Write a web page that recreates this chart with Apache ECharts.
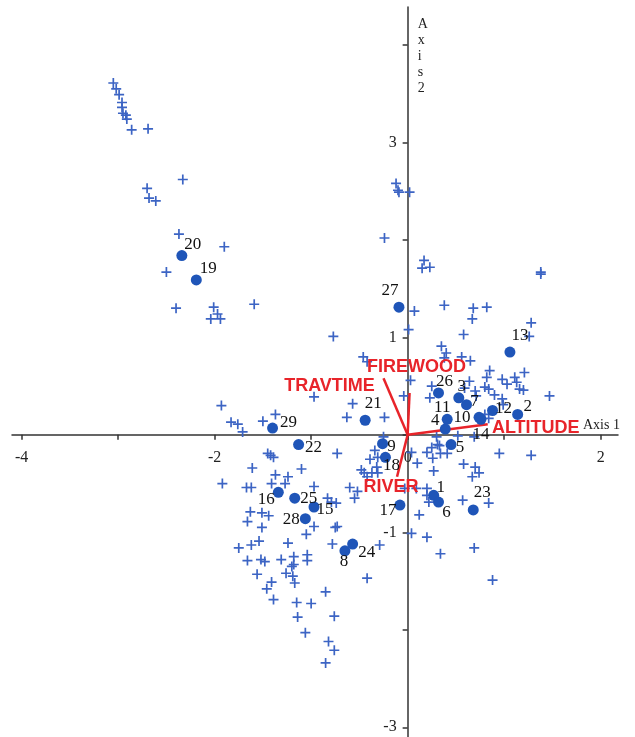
<!DOCTYPE html>
<html>
<head>
<meta charset="utf-8">
<script src="https://cdn.jsdelivr.net/npm/echarts@6/dist/echarts.min.js"></script>
<style>
  html, body { margin: 0; padding: 0; background: #fff; }
  #chart { width: 635px; height: 737px; }
</style>
</head>
<body>
<div id="chart"></div>
<script>
// Ordination biplot: species (+), sites (numbered dots) and environmental vectors.

// Axis ticks and labels
const xTicks = [-4, -3, -2, -1, 0, 1, 2];
const xTickLabels = [-4, -2, 0, 2];
const yTicks = [-3, -2, -1, 0, 1, 2, 3, 4];
const yTickLabels = [-3, -1, 1, 3];

// Species scores [axis1, axis2]
const species = [
  [-3.05,3.61],[-3.02,3.55],[-2.99,3.49],[-2.96,3.41],[-2.96,3.36],[-2.95,3.30],[-2.92,3.28],[-2.91,3.24],[-2.86,3.13],[-2.69,3.14],
  [-2.33,2.62],[-2.70,2.53],[-2.68,2.43],[-2.61,2.40],[-2.37,2.06],[-1.90,1.93],[-2.50,1.67],[-2.40,1.30],[-2.01,1.31],[-1.97,1.24],
  [-2.04,1.19],[-1.94,1.19],[-1.59,1.34],
  [-0.12,2.58],[-0.10,2.51],[-0.09,2.49],[0.02,2.49],[-0.24,2.02],[0.17,1.79],[0.15,1.71],[0.23,1.72],[1.38,1.67],[1.38,1.65],
  [0.07,1.27],[0.38,1.33],[0.68,1.30],[0.82,1.31],[0.67,1.19],[1.28,1.15],[1.26,1.01],[0.58,1.03],[0.01,1.08],[-0.77,1.01],
  [0.35,0.91],[0.40,0.84],[0.38,0.79],[0.56,0.80],[-0.46,0.80],[-0.42,0.75],[-0.97,0.39],
  [0.65,0.76],[0.85,0.66],[0.82,0.59],[0.98,0.57],[1.03,0.52],[1.11,0.59],[1.13,0.54],[1.21,0.64],[1.16,0.47],[1.20,0.46],[1.47,0.40],
  [0.03,0.56],[0.25,0.50],[0.23,0.38],[-0.04,0.40],[0.64,0.55],[0.59,0.48],[0.70,0.45],[0.71,0.40],[0.80,0.49],[0.84,0.47],
  [0.90,0.41],[0.98,0.37],[0.99,0.31],[0.80,0.21],[0.84,0.17],
  [-0.57,0.32],[-0.63,0.18],[-0.24,0.18],[-1.93,0.30],[-1.83,0.13],[-1.76,0.11],[-1.71,0.03],[-1.50,0.14],[-1.37,0.21],
  [0.52,-0.01],[0.69,-0.02],[0.30,-0.02],[-0.25,-0.02],[0.31,-0.10],[0.95,-0.19],[1.28,-0.21],
  [-1.45,-0.19],[-1.42,-0.21],[-1.39,-0.23],[-1.61,-0.34],[-1.10,-0.35],[-0.73,-0.19],
  [-0.34,-0.16],[-0.39,-0.25],[-0.31,-0.23],[-0.48,-0.36],[-0.45,-0.39],[-0.37,-0.39],[-0.31,-0.39],[-0.32,-0.33],[-0.42,-0.43],
  [0.20,-0.18],[0.25,-0.13],[0.33,-0.11],[0.26,-0.24],[0.34,-0.19],[0.41,-0.19],[0.10,-0.29],[0.58,-0.30],[0.70,-0.33],
  [0.67,-0.43],[0.74,-0.39],[0.27,-0.37],[0.04,-0.18],
  [-0.60,-0.54],[-0.52,-0.58],[-0.55,-0.65],[0.20,-0.55],[0.20,-0.62],[0.22,-0.69],[0.09,-0.55],[-0.03,-0.55],[0.12,-0.82],
  [0.57,-0.67],[0.84,-0.70],[0.04,-1.01],[0.20,-1.05],[-0.75,-0.95],[-0.29,-1.13],[0.69,-1.16],[0.34,-1.22],[0.88,-1.49],
  [-1.92,-0.50],[-1.67,-0.54],[-1.62,-0.54],[-1.41,-0.50],[-1.27,-0.50],[-1.37,-0.41],[-1.24,-0.43],[-0.97,-0.53],[-0.83,-0.65],
  [-0.74,-0.70],[-0.79,-0.69],
  [-1.63,-0.79],[-1.51,-0.80],[-1.44,-0.83],[-1.66,-0.89],[-1.51,-0.95],[-0.97,-0.94],[-1.05,-1.02],[-0.73,-0.94],[-1.24,-1.11],
  [-1.54,-1.09],[-1.62,-1.13],[-1.75,-1.16],[-0.78,-1.12],
  [-1.66,-1.29],[-1.52,-1.28],[-1.48,-1.30],[-1.31,-1.28],[-1.18,-1.25],[-1.18,-1.33],[-1.20,-1.35],[-1.04,-1.23],[-1.04,-1.29],
  [-1.56,-1.43],[-1.26,-1.42],[-1.19,-1.45],[-1.17,-1.52],[-1.41,-1.51],[-1.46,-1.58],[-1.39,-1.69],[-0.85,-1.61],[-0.42,-1.47],
  [-1.15,-1.72],[-1.00,-1.73],[-1.14,-1.87],[-0.76,-1.86],[-1.06,-2.03],[-0.82,-2.12],[-0.76,-2.21],[-0.85,-2.34]
];

// Site scores
const siteIds = [1,2,3,4,5,6,7,8,9,10,11,12,13,14,15,16,17,18,19,20,21,22,23,24,25,26,27,28,29];
const siteX = [0.27,1.14,0.53,0.39,0.45,0.32,0.61,-0.65,-0.26,0.74,0.41,0.88,1.06,0.76,-0.97,-1.34,-0.08,-0.23,-2.19,-2.34,-0.44,-1.13,0.68,-0.57,-1.17,0.32,-0.09,-1.06,-1.40];
const siteY = [-0.62,0.21,0.38,0.06,-0.10,-0.69,0.31,-1.19,-0.09,0.18,0.16,0.25,0.85,0.16,-0.74,-0.59,-0.72,-0.23,1.59,1.84,0.15,-0.10,-0.77,-1.12,-0.65,0.43,1.31,-0.86,0.07];

// Environmental vectors (arrow tips)
const envNames = ['FIREWOOD', 'TRAVTIME', 'ALTITUDE', 'RIVER'];
const envX = [0.02, -0.25, 0.83, -0.11];
const envY = [0.43, 0.58, 0.11, -0.43];

// Label placement (pixel offsets from the mark)
const siteLabelOffset = {
  1:[7,-8], 2:[10,-8], 3:[3,-11], 4:[-10,-8], 5:[9,3], 6:[8,10], 7:[8,-3], 8:[-1,11], 9:[9,3],
  10:[-17,0], 11:[-5,-12], 12:[11,-2], 13:[10,-16], 14:[0,15], 15:[11,3], 16:[-12,7], 17:[-12,5],
  18:[6,8], 19:[12,-11], 20:[11,-11], 21:[8,-17], 22:[15,3], 23:[9,-17], 24:[14,9], 25:[14,0],
  26:[6,-11], 27:[-9,-17], 28:[-14,1], 29:[16,-6]
};
const envLabelOffset = { FIREWOOD:[7,-26], TRAVTIME:[-54,8], ALTITUDE:[48,4], RIVER:[-6,10] };

const RED = '#e8242a';
const AXIS = '#333333';
const SERIF = '"Liberation Serif", "DejaVu Serif", serif';
const PLUS = 'path://M4.15,0H5.85V4.15H10V5.85H5.85V10H4.15V5.85H0V4.15H4.15Z';

const X_MIN = -4.1, X_MAX = 2.18, Y_MIN = -3.1, Y_MAX = 4.39;

const chart = echarts.init(document.getElementById('chart'), null, { renderer: 'canvas' });

const vectorSeries = envNames.map((n, i) => ({
  type: 'line',
  data: [[0, 0], [envX[i], envY[i]]],
  symbol: 'none',
  silent: true,
  lineStyle: { color: RED, width: 2.5 },
  z: 3
}));

function buildOption(xOffset, yOffset) {
  return {
    animation: false,
    grid: { left: 12, right: 17, top: 7, bottom: 0, containLabel: false, outerBoundsMode: 'none' },
    xAxis: {
      type: 'value', min: X_MIN, max: X_MAX, position: 'bottom', offset: xOffset,
      splitLine: { show: false },
      axisLine: { onZero: false, lineStyle: { color: AXIS, width: 1.5 } },
      axisTick: { show: true, length: 5, customValues: xTicks, lineStyle: { color: AXIS, width: 1.5 } },
      axisLabel: { customValues: xTickLabels, margin: 15, color: '#222', fontFamily: SERIF, fontSize: 16 },
      name: 'Axis 1', nameLocation: 'end', nameGap: -35,
      nameMoveOverlap: false,
      nameTextStyle: { color: '#222', fontFamily: SERIF, fontSize: 14, align: 'left', verticalAlign: 'bottom', padding: [0, 0, 3, 0] }
    },
    yAxis: {
      type: 'value', min: Y_MIN, max: Y_MAX, position: 'left', offset: yOffset,
      splitLine: { show: false },
      axisLine: { onZero: false, lineStyle: { color: AXIS, width: 1.5 } },
      axisTick: { show: true, length: 5, customValues: yTicks, lineStyle: { color: AXIS, width: 1.5 } },
      axisLabel: { customValues: yTickLabels, margin: 11, color: '#222', fontFamily: SERIF, fontSize: 16 },
      name: 'A\nx\ni\ns\n2', nameLocation: 'end', nameGap: -89,
      nameMoveOverlap: false,
      nameTextStyle: { color: '#222', fontFamily: SERIF, fontSize: 14, lineHeight: 16, align: 'left', verticalAlign: 'bottom', padding: [0, 0, 0, 10] }
    },
    series: [
      {
        type: 'scatter',
        data: species,
        symbol: PLUS,
        symbolSize: 10,
        itemStyle: { color: '#3c64c4', opacity: 1 },
        silent: true,
        z: 2
      },
      ...vectorSeries,
      {
        type: 'scatter',
        data: siteIds.map((id, i) => ({
          name: String(id),
          value: [siteX[i], siteY[i]],
          label: { offset: siteLabelOffset[id] }
        })),
        symbol: 'circle',
        symbolSize: 11,
        itemStyle: { color: '#1f55b8', opacity: 1 },
        label: {
          show: true, position: 'inside', formatter: '{b}',
          color: '#111', fontFamily: SERIF, fontSize: 17
        },
        silent: true,
        z: 4
      },
      {
        type: 'scatter',
        data: envNames.map((n, i) => ({
          name: n,
          value: [envX[i], envY[i]],
          label: { offset: envLabelOffset[n] }
        })),
        symbolSize: 0,
        itemStyle: { color: 'transparent', opacity: 1 },
        label: {
          show: true, position: 'inside', formatter: '{b}',
          color: RED, fontFamily: '"Liberation Sans", Arial, sans-serif', fontWeight: 'bold', fontSize: 18
        },
        silent: true,
        z: 5
      }
    ]
  };
}

// First pass lays out the grid; then both axes are shifted so they cross at the origin.
chart.setOption(buildOption(0, 0));
const origin = chart.convertToPixel({ gridIndex: 0 }, [0, 0]);
const corner = chart.convertToPixel({ gridIndex: 0 }, [X_MIN, Y_MIN]);
chart.setOption(buildOption(origin[1] - corner[1], corner[0] - origin[0]));
</script>
</body>
</html>
